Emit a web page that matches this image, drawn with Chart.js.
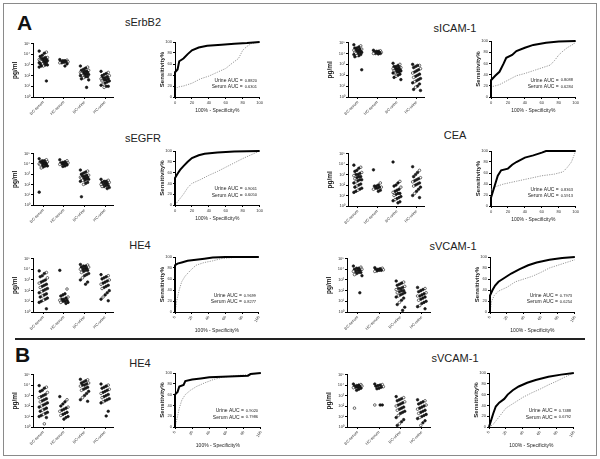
<!DOCTYPE html>
<html>
<head>
<meta charset="utf-8">
<script src="https://cdn.jsdelivr.net/npm/chart.js@4.4.0/dist/chart.umd.min.js"></script>
<style>
  body { margin: 0; background: #fff; }
  #fig { position: relative; width: 600px; height: 459px; overflow: hidden; font-family: "Liberation Sans", Arial, sans-serif; background: #fff; }
  #frame { position: absolute; left: 3px; top: 3px; width: 592px; height: 451px; border: 1px solid #8a8a8a; }
  #sep { position: absolute; left: 15px; top: 338px; width: 570px; height: 2px; background: #222; }
  .title { position: absolute; font-size: 11px; line-height: 12px; transform: translateX(-50%); white-space: nowrap; color: #222; }
  .letter { position: absolute; font-size: 21px; line-height: 22px; font-weight: bold; color: #111; }
  canvas { position: absolute; }
</style>
</head>
<body>
<div id="fig">
  <div id="frame"></div>
  <div id="sep"></div>
  <div class="letter" style="left:17px;top:12px">A</div>
  <div class="letter" style="left:15px;top:344px">B</div>
  <div class="title" style="left:143px;top:16px">sErbB2</div>
  <div class="title" style="left:455px;top:22px">sICAM-1</div>
  <div class="title" style="left:143px;top:132px">sEGFR</div>
  <div class="title" style="left:455px;top:129px">CEA</div>
  <div class="title" style="left:140px;top:239px">HE4</div>
  <div class="title" style="left:453px;top:240px">sVCAM-1</div>
  <div class="title" style="left:140px;top:357px">HE4</div>
  <div class="title" style="left:455px;top:352px">sVCAM-1</div>
</div>
<script>
// ---- data (log10 pg/ml per group; ROC points as [100%-specificity, sensitivity]) ----
const groupLabels = ['BC-serum', 'HC-serum', 'BC-urine', 'HC-urine'];
const yTickExp = [0, 1, 2, 3, 4, 5];
const rocTicks = [0, 20, 40, 60, 80, 100];

const sErbB2Dots = [
  [4.3,4.2,4.1,3.9,3.8,3.7,3.7,3.6,3.6,3.5,3.5,3.5,3.4,3.4,3.4,3.3,3.3,3.3,3.2,3.2,3.2,3.1,3.1,3.0,3.0,2.9,2.9,2.8,1.5],
  [3.5,3.45,3.4,3.4,3.35,3.3,3.3,3.25,3.2,3.2,3.1,2.9],
  [2.9,2.8,2.7,2.6,2.5,2.5,2.4,2.4,2.3,2.3,2.3,2.2,2.2,2.2,2.1,2.1,2.1,2.0,2.0,1.9,1.9,1.8,1.7,1.6,0.9],
  [2.4,2.3,2.2,2.1,2.0,2.0,1.9,1.8,1.8,1.7,1.7,1.6,1.6,1.5,1.5,1.4,1.3,1.2,1.1,1.0,1.0,0.9]
];
const sICAM1Dots = [
  [4.8,4.7,4.6,4.5,4.5,4.4,4.4,4.3,4.3,4.3,4.2,4.2,4.2,4.1,4.1,4.1,4.0,4.0,3.9,3.9,3.8,3.8,3.7,2.5],
  [4.3,4.25,4.2,4.2,4.15,4.1,4.1,4.05,4.0,4.0,4.0,3.95],
  [3.1,3.0,2.9,2.8,2.8,2.7,2.7,2.6,2.6,2.6,2.5,2.5,2.5,2.4,2.4,2.3,2.3,2.2,2.2,2.1,2.0,1.9,1.8,1.6],
  [3.0,2.9,2.9,2.8,2.7,2.6,2.5,2.4,2.3,2.2,2.1,2.0,1.9,1.8,1.7,1.6,1.5,1.4,1.3,1.2,1.0,0.9,0.7,0.6]
];
const sEGFRDots = [
  [4.5,4.4,4.3,4.3,4.2,4.2,4.1,4.1,4.1,4.0,4.0,4.0,3.9,3.9,3.8,3.8,3.7,3.6,1.25],
  [4.4,4.3,4.2,4.15,4.1,4.1,4.05,4.0,4.0,3.95,3.9,3.8,3.75],
  [3.4,3.3,3.2,3.1,3.0,2.9,2.9,2.8,2.8,2.7,2.7,2.6,2.6,2.6,2.5,2.5,2.4,2.4,2.3,2.2,2.1,2.0,0.8],
  [2.5,2.4,2.3,2.3,2.2,2.2,2.1,2.1,2.0,2.0,1.9,1.9,1.8,1.8,1.7,1.6]
];
const ceaDots = [
  [3.9,3.7,3.6,3.4,3.3,3.2,3.1,3.0,3.0,2.9,2.8,2.8,2.7,2.6,2.5,2.5,2.4,2.3,2.2,2.1,2.0,1.9,1.8,1.7,1.6,1.5,1.4,1.3],
  [3.45,2.2,2.0,1.9,1.9,1.8,1.8,1.7,1.7,1.6,1.5,1.4],
  [4.2,2.35,2.2,2.0,1.9,1.8,1.6,1.5,1.4,1.3,1.2,1.2,1.1,1.0,0.9,0.8,0.7,0.6,0.5,0.4,0.3],
  [3.75,3.4,3.2,3.0,2.8,2.7,2.6,2.5,2.4,2.3,2.2,2.1,2.0,1.9,1.8,1.6,1.4,1.2,1.0,0.8]
];
const he4ADots = [
  [3.85,3.7,3.6,3.4,3.3,3.2,3.0,2.9,2.8,2.7,2.6,2.5,2.4,2.3,2.2,2.1,2.0,1.9,1.8,1.7,1.6,1.5,1.4,1.3,1.2,1.1,1.0,0.9,0.3],
  [3.9,2.15,1.7,1.6,1.5,1.4,1.3,1.2,1.2,1.1,1.1,1.0,1.0,0.9,0.9,0.8],
  [4.45,4.4,4.3,4.3,4.2,4.2,4.1,4.1,4.0,4.0,3.9,3.9,3.8,3.7,3.6,3.5,3.4,3.2,3.0,2.8,2.6],
  [3.5,3.4,3.3,3.2,3.1,3.0,2.9,2.8,2.7,2.6,2.5,2.4,2.3,2.2,2.0,1.8,1.6,1.4,1.2,1.05]
];
const sVCAM1ADots = [
  [4.3,4.2,4.1,4.1,4.0,4.0,3.9,3.9,3.8,3.8,3.7,3.7,3.6,3.5,3.4,1.8],
  [4.15,4.1,4.05,4.0,4.0,3.95,3.9,3.9,3.85,3.8],
  [2.9,2.8,2.7,2.6,2.5,2.4,2.3,2.2,2.2,2.1,2.0,2.0,1.9,1.8,1.8,1.7,1.6,1.5,1.4,1.3,1.1,0.9,0.7,0.45,0.15],
  [2.3,2.2,2.1,2.0,1.9,1.8,1.7,1.6,1.5,1.5,1.4,1.3,1.2,1.1,1.0,0.9,0.8,0.6,0.5,0.3]
];
const he4BDots = [
  [3.95,3.8,3.7,3.5,3.4,3.3,3.1,3.0,2.9,2.8,2.7,2.6,2.5,2.4,2.3,2.2,2.1,2.0,1.9,1.8,1.7,1.6,1.5,1.4,1.3,1.2,1.1,1.0,0.9,0.3],
  [2.9,2.6,2.4,2.2,2.0,1.9,1.8,1.7,1.6,1.5,1.4,1.3,1.2,1.1,1.0,0.9,0.75],
  [4.55,4.5,4.4,4.3,4.2,4.2,4.1,4.0,4.0,3.9,3.8,3.7,3.6,3.5,3.4,3.2,3.0,2.8,2.6,2.45],
  [4.1,4.0,3.9,3.8,3.7,3.6,3.5,3.4,3.3,3.2,3.1,3.0,2.9,2.8,2.7,2.6,2.5,2.4,2.3,1.5,1.05]
];
const sVCAM1BDots = [
  [4.1,4.05,4.0,3.95,3.9,3.9,3.85,3.8,3.8,3.75,3.7,3.6,3.5,1.8],
  [4.1,4.05,4.0,3.95,3.9,3.85,3.8,3.7,3.65,2.1,2.1,2.1],
  [2.9,2.8,2.7,2.6,2.5,2.4,2.3,2.2,2.1,2.0,1.9,1.8,1.7,1.6,1.5,1.4,1.3,1.1,0.9,0.7,0.5,0.3,0.15],
  [2.6,2.5,2.4,2.3,2.2,2.1,2.0,1.9,1.8,1.7,1.6,1.5,1.4,1.3,1.2,1.1,1.0,0.9,0.8,0.6,0.4,0.15]
];

const sErbB2Urine = [[0,0],[0,45],[3,50],[5,65],[10,70],[15,78],[20,85],[28,90],[38,93],[55,95],[70,97],[85,98],[100,100]];
const sErbB2Serum = [[0,0],[0,12],[3,18],[10,20],[20,25],[30,33],[40,38],[50,45],[60,52],[68,62],[75,70],[80,85],[85,92],[90,97],[100,100]];
const sICAM1Urine = [[0,0],[0,30],[5,38],[10,45],[15,60],[18,70],[25,75],[30,82],[40,88],[50,93],[65,97],[80,99],[100,100]];
const sICAM1Serum = [[0,0],[0,18],[10,22],[20,30],[30,38],[40,42],[50,47],[60,52],[70,57],[75,65],[80,75],[85,82],[90,88],[98,95],[100,100]];
const sEGFRUrine = [[0,0],[0,50],[3,58],[6,65],[10,72],[15,80],[20,87],[28,92],[35,95],[50,97],[70,99],[100,100]];
const sEGFRSerum = [[0,0],[5,10],[10,20],[15,32],[20,40],[30,47],[40,55],[50,62],[60,70],[70,78],[80,86],[90,93],[100,100]];
const ceaUrine = [[0,0],[0,15],[3,30],[5,40],[8,55],[12,65],[20,68],[25,75],[30,80],[40,88],[50,92],[60,97],[65,100],[100,100]];
const ceaSerum = [[0,0],[0,30],[5,35],[15,40],[30,45],[45,50],[60,55],[75,58],[85,62],[90,70],[95,80],[98,92],[100,100]];
const he4AUrine = [[0,0],[0,85],[3,88],[8,90],[15,93],[25,95],[35,97],[45,99],[60,100],[100,100]];
const he4ASerum = [[0,0],[2,20],[5,40],[8,55],[12,65],[18,75],[25,85],[35,90],[45,93],[55,97],[70,99],[100,100]];
const sVCAM1AUrine = [[0,0],[0,30],[3,40],[6,48],[10,55],[15,60],[20,65],[25,70],[35,78],[45,85],[55,90],[70,95],[85,98],[100,100]];
const sVCAM1ASerum = [[0,0],[2,20],[5,30],[10,38],[20,45],[30,55],[40,60],[50,65],[60,72],[70,80],[80,85],[90,90],[100,95]];
const he4BUrine = [[0,0],[0,60],[3,65],[5,75],[10,78],[12,85],[20,88],[30,90],[40,92],[55,93],[70,94],[85,95],[88,98],[100,100]];
const he4BSerum = [[0,0],[3,20],[5,35],[8,50],[12,60],[18,68],[25,75],[35,82],[45,88],[55,92],[70,95],[85,97],[100,100]];
const sVCAM1BUrine = [[0,0],[2,10],[5,25],[8,38],[12,45],[18,52],[22,60],[28,68],[35,75],[45,82],[55,87],[70,93],[85,97],[100,100]];
const sVCAM1BSerum = [[0,0],[5,5],[10,15],[15,25],[20,35],[30,45],[40,55],[50,63],[60,70],[70,78],[80,85],[90,93],[100,100]];

const urineAUC = ['0.8820', '0.8088', '0.9061', '0.8363', '0.9699', '0.7973', '0.9020', '0.7488'];
const serumAUC = ['0.6301', '0.6284', '0.6050', '0.5913', '0.8277', '0.6254', '0.7986', '0.6792'];

// ---- layout ----
const dotBoxes = [
  {x:33, y:42, w:82, h:55}, {x:348, y:41, w:78, h:56},
  {x:33, y:152, w:82, h:53}, {x:348, y:152, w:78, h:54},
  {x:33, y:257, w:82, h:55}, {x:347, y:257, w:85, h:55},
  {x:33, y:373, w:82, h:54}, {x:347, y:373, w:85, h:54}
];
const rocBoxes = [
  {x:175, y:42, w:85, h:55}, {x:491, y:41, w:85, h:56},
  {x:175, y:151, w:85, h:54}, {x:491, y:151, w:85, h:55},
  {x:175, y:257, w:85, h:55}, {x:490, y:257, w:86, h:55},
  {x:175, y:373, w:87, h:54}, {x:489, y:373, w:86, h:54}
];

const allDots = [sErbB2Dots, sICAM1Dots, sEGFRDots, ceaDots, he4ADots, sVCAM1ADots, he4BDots, sVCAM1BDots];
const allUrine = [sErbB2Urine, sICAM1Urine, sEGFRUrine, ceaUrine, he4AUrine, sVCAM1AUrine, he4BUrine, sVCAM1BUrine];
const allSerum = [sErbB2Serum, sICAM1Serum, sEGFRSerum, ceaSerum, he4ASerum, sVCAM1ASerum, he4BSerum, sVCAM1BSerum];

const sup = ['\u2070','\u00b9','\u00b2','\u00b3','\u2074','\u2075','\u2076'];
const fig = document.getElementById('fig');
const FONT = '"Liberation Sans", Arial, sans-serif';
Chart.defaults.font.family = FONT;
Chart.defaults.color = '#333';

// spread dots sideways inside a column
function jitter(i) { return (((i * 7) % 9) - 4) * 0.05; }

function addCanvas(box, yW, xH, pad) {
  const cv = document.createElement('canvas');
  cv.width = yW + box.w + pad;
  cv.height = pad + box.h + xH;
  cv.style.left = (box.x - yW) + 'px';
  cv.style.top = (box.y - pad) + 'px';
  cv.style.width = cv.width + 'px';
  cv.style.height = cv.height + 'px';
  fig.appendChild(cv);
  return cv;
}

function dotChart(box, groups) {
  const yW = 22, xH = 30, pad = 3;
  const cv = addCanvas(box, yW, xH, pad);
  const datasets = groups.map((vals, g) => ({
    data: vals.map((v, i) => ({ x: g + jitter(i), y: v })),
    pointRadius: 1.3,
    pointBorderWidth: 0.6,
    pointBorderColor: '#111',
    pointBackgroundColor: vals.map((v, i) => (i % 4 === 1 ? '#fff' : '#1a1a1a'))
  }));
  new Chart(cv, {
    type: 'scatter',
    data: { datasets },
    options: {
      responsive: false, animation: false, devicePixelRatio: 1,
      layout: { padding: { top: pad, right: pad, left: 0, bottom: 0 } },
      plugins: { legend: { display: false }, tooltip: { enabled: false } },
      scales: {
        x: {
          type: 'linear', min: -0.5, max: 3.4,
          afterBuildTicks: s => { s.ticks = groupLabels.map((c, i) => ({ value: i })); },
          afterFit: s => { s.height = xH; },
          ticks: { callback: v => groupLabels[v], autoSkip: false, minRotation: 45, maxRotation: 45, font: { size: 4 }, padding: 1 },
          grid: { drawOnChartArea: false, tickLength: 2, color: '#000' },
          border: { color: '#000', width: 1 }
        },
        y: {
          min: 0, max: 5,
          afterBuildTicks: s => { s.ticks = yTickExp.map(v => ({ value: v })); },
          afterFit: s => { s.width = yW; },
          ticks: { callback: v => '10' + sup[v], font: { size: 4 }, padding: 1 },
          title: { display: true, text: 'pg/ml', font: { size: 6.5, weight: 'bold' }, padding: 0, color: '#111' },
          grid: { drawOnChartArea: false, tickLength: 2, color: '#000' },
          border: { color: '#000', width: 1 }
        }
      }
    }
  });
}

function rocChart(box, urine, serum, uAuc, sAuc, rotate) {
  const yW = 16, xH = rotate ? 22 : 17, pad = 3;
  const cv = addCanvas(box, yW, xH, pad + 1);
  const aucText = {
    id: 'auc',
    afterDraw(chart) {
      const a = chart.chartArea, c = chart.ctx;
      const h = a.bottom - a.top;
      c.save();
      c.fillStyle = '#222';
      c.textBaseline = 'middle';
      c.textAlign = 'right';
      c.font = '5px ' + FONT;
      c.fillText('Urine AUC =', a.right - 17, a.bottom - 0.3 * h);
      c.fillText('Serum AUC =', a.right - 17, a.bottom - 0.18 * h);
      c.textAlign = 'left';
      c.font = '4px ' + FONT;
      c.fillText(uAuc, a.right - 15, a.bottom - 0.3 * h);
      c.fillText(sAuc, a.right - 15, a.bottom - 0.18 * h);
      c.restore();
    }
  };
  new Chart(cv, {
    type: 'scatter',
    data: {
      datasets: [
        { data: urine.map(p => ({ x: p[0], y: p[1] })), showLine: true, borderColor: '#000', borderWidth: 2, pointRadius: 0, order: 0, clip: 3 },
        { data: serum.map(p => ({ x: p[0], y: p[1] })), showLine: true, borderColor: '#999', borderWidth: 1, borderDash: [1.2, 1.2], pointRadius: 0, order: 1 }
      ]
    },
    options: {
      responsive: false, animation: false, devicePixelRatio: 1,
      layout: { padding: { top: pad + 1, right: pad, left: 0, bottom: 0 } },
      plugins: { legend: { display: false }, tooltip: { enabled: false } },
      scales: {
        x: {
          min: 0, max: 100,
          afterBuildTicks: s => { s.ticks = rocTicks.map(v => ({ value: v })); },
          afterFit: s => { s.height = xH; },
          ticks: { font: { size: 4 }, padding: 1, minRotation: rotate ? 60 : 0, maxRotation: rotate ? 60 : 0 },
          title: { display: true, text: '100% - Specificity%', font: { size: 5 }, padding: 0, color: '#222' },
          grid: { drawOnChartArea: false, tickLength: 2, color: '#000' },
          border: { color: '#000', width: 1 }
        },
        y: {
          min: 0, max: 100,
          afterBuildTicks: s => { s.ticks = rocTicks.map(v => ({ value: v })); },
          afterFit: s => { s.width = yW; },
          ticks: { font: { size: 4 }, padding: 1 },
          title: { display: true, text: 'Sensitivity%', font: { size: 6, weight: 'bold' }, padding: 0, color: '#222' },
          grid: { drawOnChartArea: false, tickLength: 2, color: '#000' },
          border: { color: '#000', width: 1 }
        }
      }
    },
    plugins: [aucText]
  });
}

for (let k = 0; k < 8; k++) {
  dotChart(dotBoxes[k], allDots[k]);
  rocChart(rocBoxes[k], allUrine[k], allSerum[k], urineAUC[k], serumAUC[k], k >= 4);
}
</script>
</body>
</html>
